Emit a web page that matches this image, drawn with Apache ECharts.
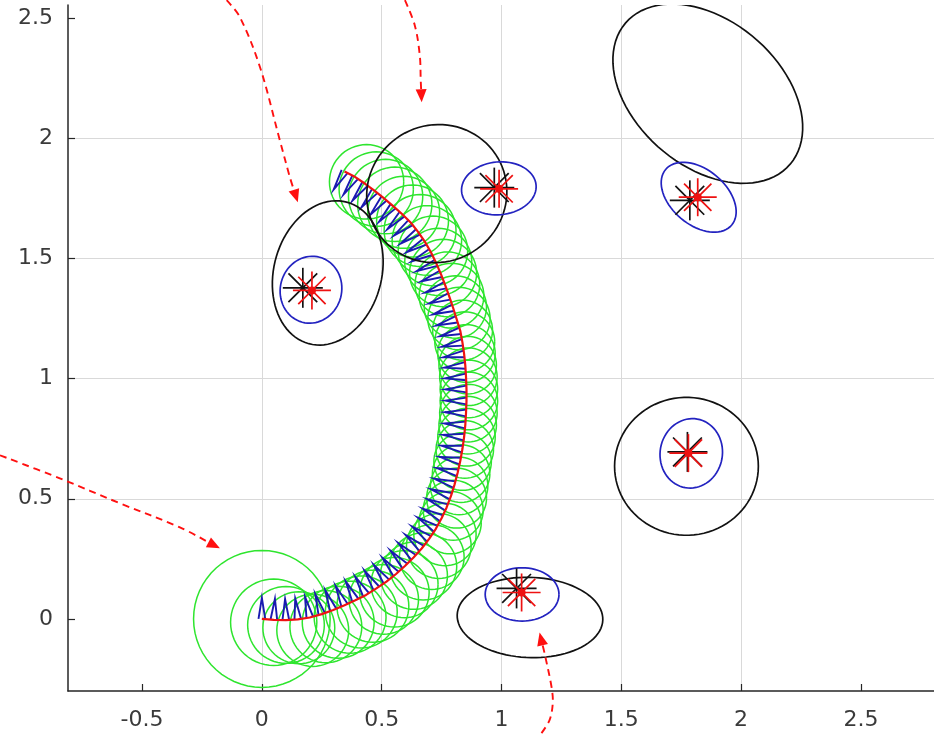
<!DOCTYPE html>
<html><head><meta charset="utf-8">
<script src="https://cdn.jsdelivr.net/npm/echarts@6/dist/echarts.min.js"></script>
<style>html,body{margin:0;padding:0;background:#fff}#c{width:934px;height:734px}</style>
</head><body><div id="c"></div>
<script>
// ---- tick labels ----
const xTicks = [-0.5, 0, 0.5, 1, 1.5, 2, 2.5];
const yTicks = [0, 0.5, 1, 1.5, 2, 2.5];

// ---- robot trajectory (true path, red) ----
const poseX = [0.000,0.050,0.100,0.150,0.200,0.250,0.298,0.345,0.390,0.435,0.478,0.520,0.560,0.597,0.633,0.667,0.698,0.726,0.750,0.771,0.789,0.804,0.817,0.828,0.837,0.844,0.849,0.852,0.854,0.854,0.852,0.849,0.844,0.837,0.828,0.813,0.798,0.782,0.765,0.747,0.727,0.705,0.680,0.652,0.621,0.585,0.548,0.510,0.471,0.431,0.390,0.345];
const poseY = [0.000,-0.004,-0.005,-0.002,0.006,0.020,0.037,0.057,0.078,0.100,0.127,0.155,0.187,0.220,0.256,0.293,0.333,0.375,0.419,0.464,0.511,0.559,0.608,0.657,0.707,0.757,0.807,0.857,0.907,0.957,1.007,1.055,1.103,1.151,1.199,1.247,1.295,1.342,1.389,1.436,1.482,1.527,1.570,1.611,1.650,1.685,1.718,1.750,1.781,1.811,1.839,1.862];
// robot heading (degrees) at each pose
const poseHeading = [0,-3,2,7,13,18,22,25,27,31,34,37,40,43,47,50,54,58,63,67,71,74,77,79,81,84,86,88,89,91,94,96,99,102,105,107,108,109,110,111,113,116,120,124,128,136,138,140,141,143,146,149];

// ---- pose uncertainty circles (green) ----
const greenR = [0.285,0.18,0.16,0.15,0.15,0.15,0.15,0.15,0.15,0.15,0.145,0.145,0.14,0.14,0.14,0.135,0.135,0.13,0.13,0.125,0.125,0.12,0.12,0.12,0.12,0.12,0.12,0.12,0.12,0.12,0.12,0.12,0.12,0.125,0.125,0.13,0.13,0.135,0.135,0.14,0.14,0.145,0.145,0.15,0.15,0.15,0.155,0.155,0.155,0.155];
const greenOff = [0,0.01,0.02,0.035,0.055,0.055,0.055,0.055,0.055,0.055,0.055,0.055,0.055,0.055,0.055,0.055,0.05,0.045,0.04,0.03,0.025,0.02,0.015,0.01,0.01,0.01,0.01,0.01,0.01,0.01,0.01,0.01,0.01,0.01,0.01,0.01,0.01,0.01,0.01,0.01,0.01,0.01,0.01,0.01,0.01,0.01,0.01,0.01,0.01,0.01];

// ---- landmarks ----
const lmBlackX = [0.171, 0.970, 1.786, 1.776, 1.063];
const lmBlackY = [1.378, 1.795, 1.742, 0.695, 0.127];
const lmRedX   = [0.209, 0.990, 1.819, 1.780, 1.084];
const lmRedY   = [1.367, 1.790, 1.755, 0.690, 0.110];

const blueEllX   = [0.205, 0.989, 1.823, 1.792, 1.086];
const blueEllY   = [1.370, 1.792, 1.755, 0.689, 0.102];
const blueEllA   = [0.140, 0.156, 0.180, 0.145, 0.154];
const blueEllB   = [0.128, 0.110, 0.115, 0.130, 0.111];
const blueEllAng = [75, 5, -40, 80, 0];

const blackEllX   = [0.275, 0.730, 1.861, 1.772, 1.119];
const blackEllY   = [1.440, 1.770, 2.186, 0.635, 0.006];
const blackEllA   = [0.305, 0.295, 0.452, 0.300, 0.304];
const blackEllB   = [0.225, 0.285, 0.303, 0.287, 0.167];
const blackEllAng = [75, 30, -40.5, 0, -2];

// ---- annotation arrows (red dashed), start -> tip ----
const arrowA = [[-0.147,2.575],[-0.092,2.505],[-0.008,2.297],[0.075,1.992],[0.117,1.838],[0.150,1.734]];
const arrowB = [[0.597,2.575],[0.638,2.471],[0.659,2.346],[0.663,2.242],[0.667,2.150]];
const arrowC = [[-1.093,0.681],[-0.843,0.585],[-0.592,0.481],[-0.342,0.381],[-0.175,0.294]];
const arrowD = [[1.167,-0.475],[1.201,-0.420],[1.214,-0.350],[1.209,-0.284],[1.180,-0.144],[1.159,-0.057]];
const arrows = [arrowA, arrowB, arrowC, arrowD];

// ================= drawing =================
const D2R = Math.PI / 180;
function ellPts(api, cx, cy, a, b, angDeg, n) {
  const c = Math.cos(angDeg * D2R), s = Math.sin(angDeg * D2R);
  const pts = [];
  for (let i = 0; i <= n; i++) {
    const t = 2 * Math.PI * i / n;
    const ex = a * Math.cos(t), ey = b * Math.sin(t);
    pts.push(api.coord([cx + ex * c - ey * s, cy + ex * s + ey * c]));
  }
  return pts;
}

const greenData = greenR.map((r, i) => [poseX[i], poseY[i], i]);
const poseData = poseX.map((x, i) => [x, poseY[i], i]);
const lmData = lmRedX.map((x, i) => [x, lmRedY[i], i]);
const arrowData = arrows.map((a, i) => [a[a.length - 1][0], a[a.length - 1][1], i]);

function starLines(p, R, color, lw) {
  const d = R * 0.72;
  const segs = [[[p[0]-R,p[1]],[p[0]+R,p[1]]],[[p[0],p[1]-R],[p[0],p[1]+R]],
                [[p[0]-d,p[1]-d],[p[0]+d,p[1]+d]],[[p[0]-d,p[1]+d],[p[0]+d,p[1]-d]]];
  return segs.map(s => ({type:'line', shape:{x1:s[0][0],y1:s[0][1],x2:s[1][0],y2:s[1][1]}, style:{stroke:color, lineWidth:lw}}));
}

const chart = echarts.init(document.getElementById('c'), null, {renderer: 'canvas'});
const axisCol = '#262626';
const labelStyle = {color: '#3a3a3a', fontSize: 22, fontFamily: 'DejaVu Sans'};
chart.setOption({
  animation: false,
  backgroundColor: '#ffffff',
  grid: {left: 68, right: 0, top: 5, bottom: 43, containLabel: false},
  xAxis: {
    type: 'value', min: -0.809, max: 2.805, splitNumber: 7,
    axisLine: {onZero: false, lineStyle: {color: axisCol, width: 1.5}},
    axisTick: {inside: true, length: 7, customValues: xTicks, lineStyle: {color: axisCol, width: 1.2}},
    axisLabel: Object.assign({customValues: xTicks, margin: 18}, labelStyle),
    splitLine: {show: true, showMinLine: false, showMaxLine: false, lineStyle: {color: '#d9d9d9', width: 1}}
  },
  yAxis: {
    type: 'value', min: -0.3, max: 2.555, splitNumber: 6,
    axisLine: {onZero: false, lineStyle: {color: axisCol, width: 1.5}},
    axisTick: {inside: true, length: 7, customValues: yTicks, lineStyle: {color: axisCol, width: 1.2}},
    axisLabel: Object.assign({customValues: yTicks, margin: 15}, labelStyle),
    splitLine: {show: true, showMinLine: false, showMaxLine: false, lineStyle: {color: '#d9d9d9', width: 1}}
  },
  series: [
    { // green pose-uncertainty circles
      type: 'custom', clip: true, data: greenData,
      renderItem: (params, api) => {
        const i = api.value(2);
        const h = poseHeading[i] * D2R;
        const cx = poseX[i] + greenOff[i] * Math.sin(h);
        const cy = poseY[i] - greenOff[i] * Math.cos(h);
        return {type: 'polyline', shape: {points: ellPts(api, cx, cy, greenR[i], greenR[i], 0, 60)},
                style: {stroke: '#2ee52e', lineWidth: 1.5, fill: 'none'}};
      }
    },
    { // blue robot markers
      type: 'custom', clip: true, data: poseData,
      renderItem: (params, api) => {
        const i = api.value(2);
        const h = poseHeading[i] * D2R;
        const hx = Math.cos(h), hy = Math.sin(h), lx = -Math.sin(h), ly = Math.cos(h);
        const L = 0.088, w = 0.014;
        const p1 = api.coord([poseX[i] - w * hx, poseY[i] - w * hy]);
        const p2 = api.coord([poseX[i] + L * lx, poseY[i] + L * ly]);
        const p3 = api.coord([poseX[i] + w * hx, poseY[i] + w * hy]);
        return {type: 'polyline', shape: {points: [p1, p2, p3]},
                style: {stroke: '#1a1ab0', lineWidth: 1.9, fill: 'none'}};
      }
    },
    { // true trajectory
      type: 'line', data: poseX.map((x, i) => [x, poseY[i]]), showSymbol: false, symbol: 'none',
      lineStyle: {color: '#ee1111', width: 2.2}, z: 3
    },
    { // black ellipses
      type: 'custom', clip: true, data: lmData, z: 4,
      renderItem: (params, api) => {
        const i = api.value(2);
        return {type: 'polyline', shape: {points: ellPts(api, blackEllX[i], blackEllY[i], blackEllA[i], blackEllB[i], blackEllAng[i], 90)},
                style: {stroke: '#111111', lineWidth: 1.7, fill: 'none'}};
      }
    },
    { // blue ellipses
      type: 'custom', clip: true, data: lmData, z: 5,
      renderItem: (params, api) => {
        const i = api.value(2);
        return {type: 'polyline', shape: {points: ellPts(api, blueEllX[i], blueEllY[i], blueEllA[i], blueEllB[i], blueEllAng[i], 72)},
                style: {stroke: '#2323c0', lineWidth: 1.7, fill: 'none'}};
      }
    },
    { // landmark stars
      type: 'custom', clip: true, data: lmData, z: 6,
      renderItem: (params, api) => {
        const i = api.value(2);
        const pb = api.coord([lmBlackX[i], lmBlackY[i]]);
        const pr = api.coord([lmRedX[i], lmRedY[i]]);
        const children = starLines(pb, 20, '#111111', 1.7).concat(starLines(pr, 19, '#ee1111', 1.7));
        children.push({type: 'circle', shape: {cx: pr[0], cy: pr[1], r: 4}, style: {fill: '#ee1111'}});
        return {type: 'group', children};
      }
    },
    { // annotation arrows
      type: 'custom', clip: false, data: arrowData, z: 10,
      renderItem: (params, api) => {
        const pts = arrows[api.value(2)].map(p => api.coord(p));
        const n = pts.length, tip = pts[n - 1], prev = pts[n - 2];
        const dx = tip[0] - prev[0], dy = tip[1] - prev[1], L = Math.hypot(dx, dy);
        const ux = dx / L, uy = dy / L;
        const base = [tip[0] - ux * 13, tip[1] - uy * 13];
        const linePts = pts.slice(0, n - 1).concat([base]);
        return {type: 'group', children: [
          {type: 'polyline', shape: {points: linePts, smooth: 0.35}, style: {stroke: '#ff1010', lineWidth: 1.9, lineDash: [7, 5], fill: 'none'}},
          {type: 'polygon', shape: {points: [tip, [base[0] - uy * 5.5, base[1] + ux * 5.5], [base[0] + uy * 5.5, base[1] - ux * 5.5]]}, style: {fill: '#ff1010'}}
        ]};
      }
    }
  ]
});
</script></body></html>
